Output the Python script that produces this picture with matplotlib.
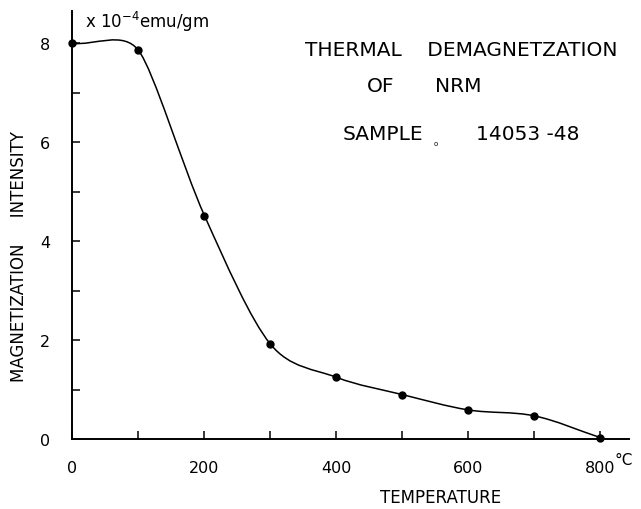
import numpy as np
import matplotlib
matplotlib.use("Agg")
import matplotlib.pyplot as plt
from matplotlib.path import Path
from matplotlib.patches import PathPatch

temperature = [0, 100, 200, 300, 400, 500, 600, 700, 800]
intensity = [8.0, 7.86, 4.52, 1.92, 1.25, 0.90, 0.59, 0.47, 0.03]
# how stiff the hand-drawn curve is at each point (1 = plain Catmull-Rom)
stiffness = [1.0, 0.7, 1.0, 0.9, 1.0, 1.0, 1.0, 1.0, 1.0]

x_ticks = [0, 100, 200, 300, 400, 500, 600, 700, 800]
x_labels = ["0", "", "200", "", "400", "", "600", "", "800"]
y_ticks = [0, 1, 2, 3, 4, 5, 6, 7, 8]
y_labels = ["0", "", "2", "", "4", "", "6", "", "8"]

plt.rcParams['font.family'] = ['DejaVu Sans']

W, H = 641, 510


def px(x, y):
    return x / W, 1 - y / H


fig = plt.figure(figsize=(W / 100, H / 100), dpi=100)
ax = fig.add_axes([0.113, 0.137, 0.868, 0.839])

# smooth curve through the points (Catmull-Rom as cubic Bezier)
pts = np.column_stack([temperature, intensity])
ext = np.vstack([2 * pts[0] - pts[1], pts, 2 * pts[-1] - pts[-2]])
tang = [(ext[i + 1] - ext[i - 1]) / 6 * stiffness[i - 1] for i in range(1, len(ext) - 1)]
verts = [tuple(pts[0])]
codes = [Path.MOVETO]
for i in range(len(pts) - 1):
    verts += [tuple(pts[i] + tang[i]), tuple(pts[i + 1] - tang[i + 1]), tuple(pts[i + 1])]
    codes += [Path.CURVE4] * 3
ax.add_patch(PathPatch(Path(verts, codes), fill=False, lw=1.1, color="black",
                       clip_on=False))
ax.plot(temperature, intensity, "o", color="black", ms=5, clip_on=False, zorder=5)

ax.set_xlim(0, 843)
ax.set_ylim(0, 8.65)
for s in ["top", "right"]:
    ax.spines[s].set_visible(False)
for s in ["left", "bottom"]:
    ax.spines[s].set_linewidth(1.4)

ax.set_xticks(x_ticks)
ax.set_xticklabels(x_labels)
ax.set_yticks(y_ticks)
ax.set_yticklabels(y_labels)
ax.tick_params(direction="in", length=6, width=1.1, labelsize=11.5)
ax.tick_params(axis="x", pad=15)
ax.tick_params(axis="y", pad=16)

fig.text(*px(615, 461), "°C", fontsize=11, ha="left", va="center")

fig.text(*px(19, 257), "MAGNETIZATION     INTENSITY", rotation=90, ha="center",
         va="center", fontsize=12)
fig.text(*px(441, 498), "TEMPERATURE", ha="center", va="center", fontsize=12)

fig.text(*px(85, 22), r"x 10$^{-4}$emu/gm", ha="left", va="center", fontsize=12)

fig.text(*px(305, 50), "THERMAL    DEMAGNETZATION", ha="left", va="center",
         fontsize=14.5)
fig.text(*px(367, 86), "OF", ha="left", va="center", fontsize=14.5)
fig.text(*px(435, 86), "NRM", ha="left", va="center", fontsize=14.5)
fig.text(*px(343, 135), "SAMPLE", ha="left", va="center", fontsize=14.5)
fig.text(*px(434, 144), "o", ha="left", va="center", fontsize=5)
fig.text(*px(580, 135), "14053 -48", ha="right", va="center", fontsize=14.5)

fig.savefig("out.png", dpi=100)
